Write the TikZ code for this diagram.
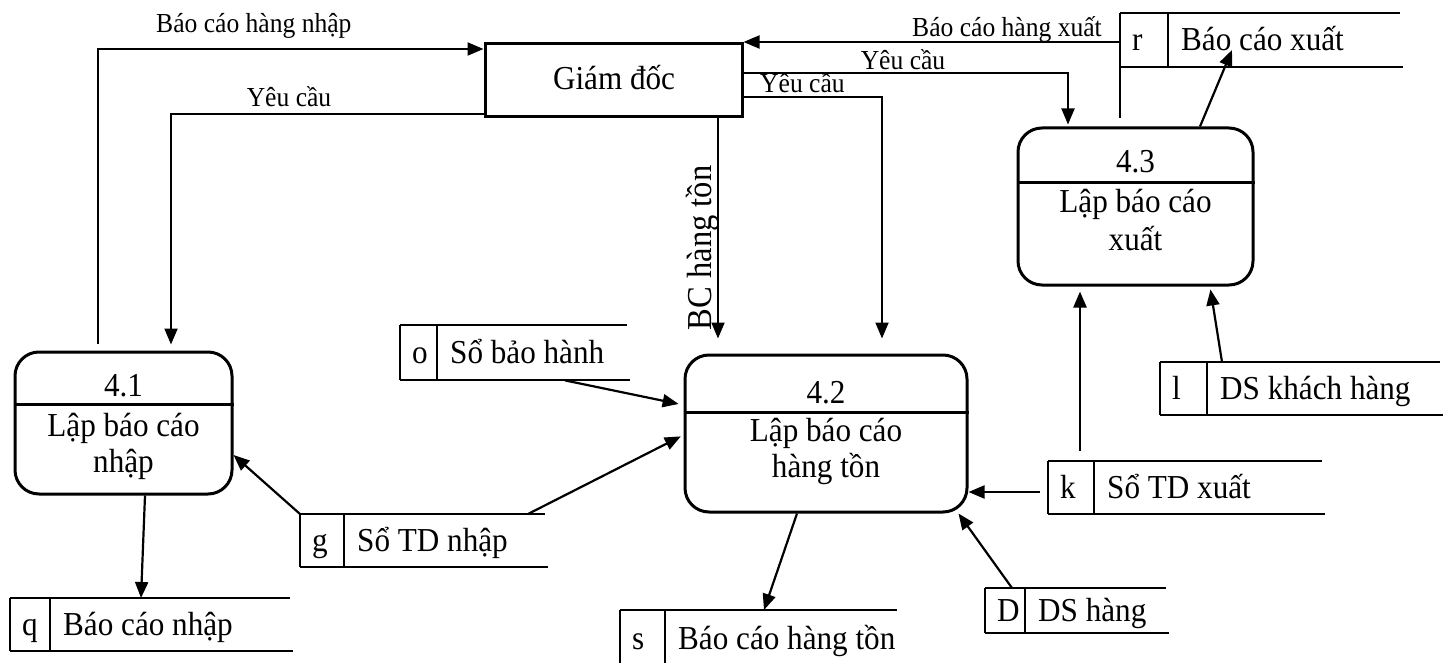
\documentclass[tikz,border=0pt]{standalone}
\usepackage{fontspec}
\setmainfont{Liberation Serif}[FakeStretch=0.93]
\usetikzlibrary{arrows.meta}

\tikzset{
  proc/.style={draw, line width=3pt, rounded corners=24pt, inner sep=0pt},
  procline/.style={line width=3pt},
  boss/.style={draw, line width=3pt, inner sep=0pt},
  storeline/.style={line width=2pt},
  flow/.style={line width=2.2pt, -{Triangle[length=16pt,width=13pt]}},
  thinflow/.style={line width=2pt, -{Triangle[length=16pt,width=13pt]}},
  lab/.style={font=\fontsize{27.5}{32}\selectfont, inner sep=0pt},
  txt/.style={font=\fontsize{33.5}{38}\selectfont, inner sep=0pt},
}

% data store: name, left x, top y, divider x, right x, bottom y, id, label
\newcommand\dstore[8]{%
  \node[inner sep=0pt, minimum width={#5-#2}, minimum height={#6-#3}, anchor=north west] (#1) at (#2,#3) {};
  \draw[storeline] (#2,#3) -- (#5,#3) (#2,#6) -- ({#5+3},#6)
                   (#2,#3) -- (#2,#6) (#4,#3) -- (#4,#6);
  \node[txt, anchor=base west] at ({#2+12},{(#3+#6)/2+11}) {#7};
  \node[txt, anchor=base west] at ({#4+13},{(#3+#6)/2+11}) {#8};
}

\begin{document}
\begin{tikzpicture}[x=1pt, y=-1pt]
\useasboundingbox (0,0) rectangle (1448,663);

% external entity
\node[boss, minimum width=257, minimum height=73] (gd) at (613.5,80.5) {};
\node[txt, anchor=base] at (614,90) {Giám đốc};

% processes
\node[proc, minimum width=217, minimum height=142] (p41) at (123.5,423) {};
\draw[procline] (p41.west |- 0,404) -- (p41.east |- 0,404);
\node[txt, anchor=base] at (123.5,396) {4.1};
\node[txt, anchor=base] at (123.5,436) {Lập báo cáo};
\node[txt, anchor=base] at (123.5,472) {nhập};

\node[proc, minimum width=282, minimum height=157] (p42) at (826,433.5) {};
\draw[procline] (p42.west |- 0,412) -- (p42.east |- 0,412);
\node[txt, anchor=base] at (826,403) {4.2};
\node[txt, anchor=base] at (826,441) {Lập báo cáo};
\node[txt, anchor=base] at (826,477) {hàng tồn};

\node[proc, minimum width=235, minimum height=157] (p43) at (1135.5,206.5) {};
\draw[procline] (p43.west |- 0,183) -- (p43.east |- 0,183);
\node[txt, anchor=base] at (1135.5,173) {4.3};
\node[txt, anchor=base] at (1135.5,213) {Lập báo cáo};
\node[txt, anchor=base] at (1135.5,251) {xuất};

% data stores
\dstore{r}{1120}{13}{1168}{1400}{67}{r}{Báo cáo xuất}
\draw[storeline] (r.north west) -- (1120,118);
\dstore{l}{1160}{362}{1207}{1440}{415}{l}{DS khách hàng}
\dstore{k}{1048}{461}{1094}{1322}{514}{k}{Sổ TD xuất}
\dstore{D}{985}{588}{1025}{1166}{633}{D}{DS hàng}
\dstore{s}{620}{610}{665}{897}{666}{s}{Báo cáo hàng tồn}
\dstore{o}{400}{325}{437}{627}{380}{o}{Sổ bảo hành}
\dstore{g}{300}{514}{344}{545}{567}{g}{Sổ TD nhập}
\dstore{q}{10}{598}{50}{290}{651}{q}{Báo cáo nhập}

% flows to and from the director
\draw[thinflow, shorten <=7pt] (98,0 |- p41.north) |- (gd.west |- 0,49);
\node[lab, anchor=base west] at (156,33) {Báo cáo hàng nhập};

\draw[thinflow, shorten >=6pt] (gd.west |- 0,114) -| (171,0 |- p41.north);
\node[lab, anchor=base] at (289,107) {Yêu cầu};

\draw[thinflow, shorten >=15pt] (718,0 |- gd.south) -- (718,0 |- p42.north);
\node[txt, anchor=base, rotate=90, font=\fontsize{35}{40}\selectfont] at (711,248) {BC hàng tồn};

\draw[thinflow, shorten >=15pt] (gd.east |- 0,97) -| (882,0 |- p42.north);
\node[lab, anchor=base west] at (760,93) {Yêu cầu};

\draw[thinflow, shorten >=2pt] (gd.east |- 0,73) -| (1068,0 |- p43.north);
\node[lab, anchor=base] at (903,70) {Yêu cầu};

\draw[thinflow] (r.west |- 0,42) -- (gd.east |- 0,42);
\node[lab, anchor=base] at (1007,37) {Báo cáo hàng xuất};

% flows between processes and stores
\coordinate (rin) at (1232,50);
\draw[flow] (1200,0 |- p43.north) -- (rin);
\draw[flow, shorten <=10pt, shorten >=5pt] (1080,0 |- k.north) -- (1080,0 |- p43.south);
\draw[flow, shorten >=3pt] (1222,0 |- l.north) -- (1210,0 |- p43.south);
\draw[flow, shorten <=8pt] (k.west |- 0,492) -- (p42.east |- 0,492);
\draw[flow] (1012,0 |- D.north) -- ([xshift=-10pt]p42.south east);
\draw[flow] (797,0 |- p42.south) -- (764,0 |- s.north);
\draw[flow, shorten >=5pt] (565,0 |- o.south) -- (p42.west |- 0,405);
\draw[flow, shorten >=3pt] (528,0 |- g.north) -- (p42.west |- 0,435);
\draw[flow] (g.north west) -- (p41.east |- 0,455);
\draw[flow] (145,0 |- p41.south) -- (141,0 |- q.north);
\end{tikzpicture}
\end{document}
